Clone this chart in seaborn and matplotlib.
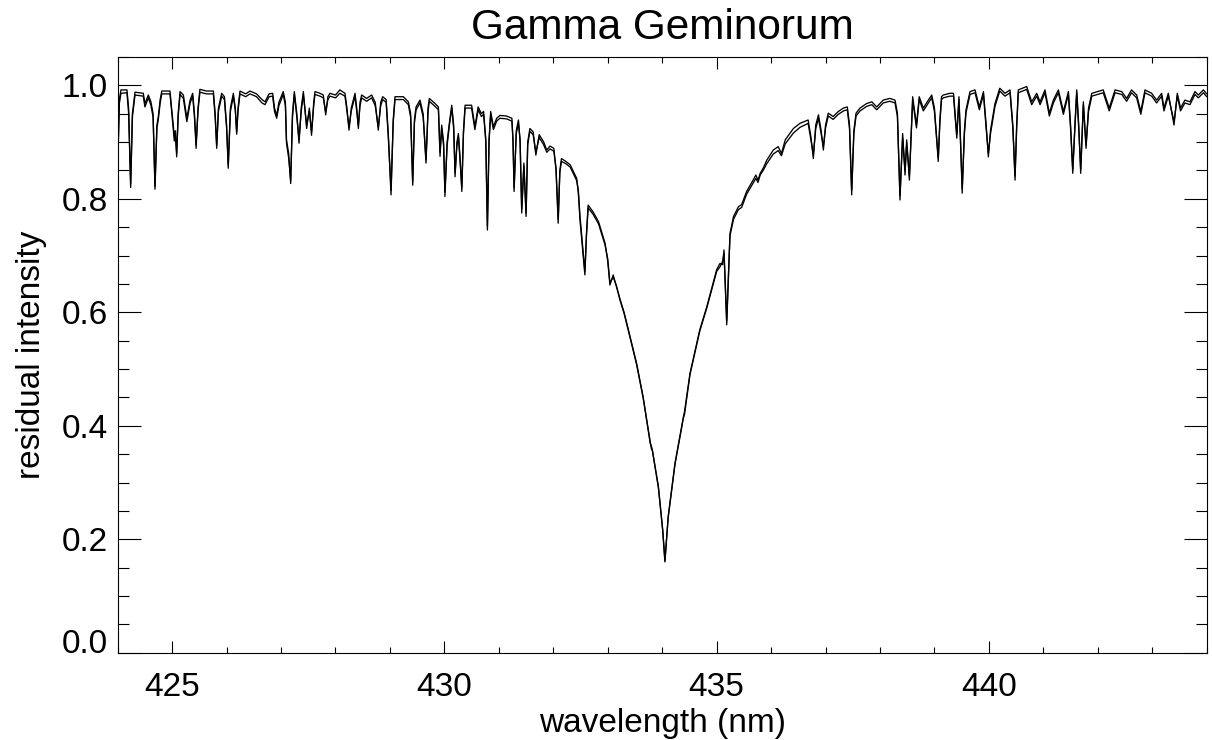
import numpy as np
import pandas as pd
import matplotlib
matplotlib.use("Agg")
import matplotlib.pyplot as plt
import seaborn as sns
from matplotlib.ticker import MultipleLocator, FormatStrFormatter

# ---------------- data ----------------
wl_a = [424.000, 424.030, 424.060, 424.170, 424.200, 424.238, 424.270, 424.318, 424.470, 424.500,
        424.563, 424.610, 424.650, 424.685, 424.720, 424.746, 424.780, 424.810, 424.960, 425.000,
        425.040, 425.060, 425.083, 425.110, 425.145, 425.206, 425.270, 425.330, 425.377, 425.410,
        425.440, 425.475, 425.510, 425.630, 425.757, 425.790, 425.818, 425.850, 425.910, 425.960,
        426.000, 426.030, 426.070, 426.124, 426.160, 426.185, 426.210, 426.246, 426.350, 426.430,
        426.550, 426.650, 426.705, 426.780, 426.846, 426.880, 426.920, 426.960, 427.040, 427.080,
        427.100, 427.140, 427.177, 427.210, 427.244]
obs_a = [0.860, 0.975, 0.992, 0.992, 0.960, 0.820, 0.950, 0.988, 0.986, 0.968,
         0.983, 0.971, 0.950, 0.817, 0.930, 0.945, 0.975, 0.990, 0.990, 0.950,
         0.910, 0.920, 0.874, 0.950, 0.989, 0.983, 0.942, 0.974, 0.986, 0.950,
         0.889, 0.960, 0.993, 0.990, 0.990, 0.950, 0.889, 0.960, 0.986, 0.980,
         0.930, 0.854, 0.960, 0.986, 0.960, 0.914, 0.960, 0.990, 0.985, 0.990,
         0.985, 0.975, 0.971, 0.985, 0.986, 0.960, 0.947, 0.970, 0.989, 0.970,
         0.904, 0.880, 0.827, 0.950, 0.989]
mod_a = [0.850, 0.968, 0.986, 0.987, 0.952, 0.826, 0.944, 0.983, 0.981, 0.962,
         0.978, 0.965, 0.944, 0.822, 0.925, 0.940, 0.969, 0.985, 0.985, 0.945,
         0.902, 0.912, 0.880, 0.944, 0.984, 0.977, 0.936, 0.969, 0.981, 0.944,
         0.895, 0.955, 0.988, 0.985, 0.985, 0.944, 0.894, 0.954, 0.981, 0.975,
         0.925, 0.860, 0.954, 0.981, 0.955, 0.918, 0.955, 0.985, 0.980, 0.985,
         0.980, 0.969, 0.966, 0.980, 0.981, 0.954, 0.942, 0.964, 0.984, 0.964,
         0.898, 0.872, 0.833, 0.944, 0.984]

wl_b = [427.290, 427.330, 427.370, 427.410, 427.470, 427.520, 427.560, 427.600, 427.623, 427.715,
        427.776, 427.820, 427.860, 427.898, 428.000, 428.080, 428.174, 428.210, 428.248, 428.290,
        428.358, 428.390, 428.420, 428.450, 428.480, 428.572, 428.664, 428.730, 428.786, 428.830,
        428.866, 428.930, 428.970, 429.020, 429.060, 429.093, 429.246, 429.338, 429.380, 429.418,
        429.450, 429.480, 429.552, 429.610, 429.662, 429.700, 429.723, 429.828, 429.890, 429.920,
        429.950, 429.985, 430.010, 430.050, 430.090, 430.135, 430.170, 430.196, 430.230, 430.257,
        430.290, 430.320, 430.350, 430.380, 430.500, 430.560, 430.620]
obs_b = [0.950, 0.898, 0.960, 0.989, 0.924, 0.960, 0.912, 0.970, 0.989, 0.986,
         0.983, 0.948, 0.980, 0.986, 0.983, 0.992, 0.986, 0.960, 0.921, 0.960,
         0.986, 0.960, 0.924, 0.970, 0.983, 0.977, 0.983, 0.970, 0.921, 0.970,
         0.980, 0.975, 0.915, 0.807, 0.940, 0.980, 0.980, 0.971, 0.950, 0.824,
         0.940, 0.962, 0.974, 0.950, 0.863, 0.960, 0.977, 0.968, 0.962, 0.875,
         0.930, 0.900, 0.804, 0.900, 0.933, 0.965, 0.930, 0.839, 0.900, 0.915,
         0.870, 0.813, 0.920, 0.965, 0.965, 0.927, 0.962]
mod_b = [0.944, 0.904, 0.954, 0.984, 0.930, 0.955, 0.918, 0.964, 0.984, 0.981,
         0.978, 0.953, 0.975, 0.981, 0.978, 0.986, 0.981, 0.955, 0.926, 0.955,
         0.981, 0.954, 0.929, 0.964, 0.978, 0.972, 0.978, 0.964, 0.926, 0.964,
         0.975, 0.970, 0.908, 0.815, 0.934, 0.975, 0.975, 0.966, 0.944, 0.830,
         0.934, 0.957, 0.969, 0.944, 0.869, 0.954, 0.972, 0.963, 0.957, 0.882,
         0.924, 0.894, 0.812, 0.894, 0.928, 0.960, 0.924, 0.846, 0.894, 0.910,
         0.864, 0.820, 0.914, 0.960, 0.960, 0.922, 0.957]

wl_c = [430.680, 430.720, 430.760, 430.790, 430.820, 430.850, 430.900, 430.960, 431.020, 431.140,
        431.240, 431.260, 431.280, 431.320, 431.360, 431.390, 431.420, 431.460, 431.500, 431.530,
        431.570, 431.630, 431.680, 431.740, 431.820, 431.880, 431.940, 432.010, 432.050, 432.090,
        432.120, 432.150, 432.230, 432.310, 432.430, 432.460, 432.490, 432.580, 432.610, 432.640,
        432.730, 432.830, 432.950, 433.000, 433.040, 433.100, 433.160, 433.220, 433.300, 433.380,
        433.530, 433.650, 433.780, 433.800, 433.820, 433.930, 434.010, 434.050, 434.110, 434.235,
        434.390, 434.410, 434.510, 434.690, 434.820, 435.000, 435.060, 435.110, 435.135, 435.185,
        435.245, 435.310, 435.400, 435.460, 435.550, 435.670, 435.720, 435.760]
obs_c = [0.950, 0.954, 0.900, 0.745, 0.900, 0.954, 0.927, 0.942, 0.947, 0.946,
         0.942, 0.900, 0.813, 0.920, 0.939, 0.900, 0.775, 0.863, 0.769, 0.900,
         0.924, 0.918, 0.877, 0.913, 0.901, 0.886, 0.893, 0.889, 0.850, 0.757,
         0.850, 0.871, 0.866, 0.860, 0.836, 0.810, 0.763, 0.666, 0.740, 0.789,
         0.777, 0.760, 0.722, 0.690, 0.648, 0.666, 0.645, 0.625, 0.600, 0.569,
         0.510, 0.451, 0.369, 0.365, 0.357, 0.293, 0.216, 0.160, 0.240, 0.334,
         0.416, 0.425, 0.492, 0.569, 0.610, 0.675, 0.686, 0.684, 0.710, 0.578,
         0.739, 0.769, 0.786, 0.790, 0.813, 0.833, 0.842, 0.833]
mod_c = [0.945, 0.949, 0.906, 0.752, 0.905, 0.949, 0.922, 0.937, 0.942, 0.941,
         0.937, 0.905, 0.820, 0.915, 0.934, 0.905, 0.782, 0.858, 0.775, 0.895,
         0.919, 0.913, 0.882, 0.908, 0.896, 0.882, 0.888, 0.884, 0.855, 0.764,
         0.846, 0.866, 0.862, 0.856, 0.832, 0.815, 0.770, 0.672, 0.736, 0.784,
         0.773, 0.756, 0.719, 0.694, 0.652, 0.662, 0.647, 0.623, 0.598, 0.567,
         0.508, 0.449, 0.372, 0.360, 0.356, 0.291, 0.215, 0.162, 0.238, 0.332,
         0.414, 0.420, 0.490, 0.567, 0.608, 0.672, 0.680, 0.690, 0.704, 0.585,
         0.735, 0.764, 0.781, 0.785, 0.808, 0.828, 0.836, 0.829]

wl_d = [435.800, 435.860, 435.920, 436.040, 436.130, 436.190, 436.260, 436.410, 436.530, 436.680,
        436.730, 436.776, 436.820, 436.870, 436.920, 436.960, 437.000, 437.050, 437.140, 437.235,
        437.330, 437.400, 437.440, 437.480, 437.520, 437.560, 437.633, 437.755, 437.850, 437.940,
        438.060, 438.180, 438.276, 438.320, 438.367, 438.416, 438.460, 438.490, 438.540, 438.600,
        438.670, 438.720, 438.796, 438.888, 438.950, 439.000, 439.070, 439.100, 439.130, 439.280]
obs_d = [0.845, 0.855, 0.868, 0.886, 0.892, 0.880, 0.904, 0.924, 0.933, 0.939,
         0.910, 0.871, 0.930, 0.948, 0.920, 0.886, 0.930, 0.951, 0.945, 0.954,
         0.960, 0.962, 0.930, 0.807, 0.920, 0.951, 0.960, 0.968, 0.971, 0.962,
         0.974, 0.977, 0.974, 0.951, 0.798, 0.915, 0.842, 0.904, 0.833, 0.980,
         0.930, 0.980, 0.960, 0.974, 0.983, 0.960, 0.866, 0.940, 0.980, 0.986]
mod_d = [0.842, 0.851, 0.862, 0.879, 0.885, 0.876, 0.897, 0.916, 0.926, 0.933,
         0.905, 0.878, 0.924, 0.942, 0.914, 0.892, 0.925, 0.946, 0.940, 0.949,
         0.955, 0.957, 0.924, 0.815, 0.915, 0.946, 0.955, 0.963, 0.966, 0.957,
         0.969, 0.972, 0.969, 0.945, 0.806, 0.908, 0.850, 0.898, 0.840, 0.974,
         0.925, 0.975, 0.955, 0.969, 0.978, 0.954, 0.872, 0.934, 0.975, 0.981]

wl_e = [439.163, 439.350, 439.380, 439.410, 439.450, 439.480, 439.510, 439.550, 439.580, 439.653,
        439.745, 439.825, 439.900, 439.950, 439.990, 440.030, 440.112, 440.200, 440.296, 440.388,
        440.440, 440.480, 440.510, 440.540, 440.694, 440.786, 440.878, 440.940, 441.030, 441.110,
        441.184, 441.276, 441.368, 441.460, 441.500, 441.540, 441.580, 441.613, 441.650, 441.686,
        441.735, 441.784, 441.830, 441.890, 442.100, 442.210, 442.317, 442.440, 442.530, 442.620,
        442.714, 442.790, 442.867, 442.990, 443.080, 443.173, 443.215, 443.295, 443.400, 443.460,
        443.520, 443.600, 443.693, 443.785, 443.846, 443.940, 444.000]
obs_e = [0.983, 0.986, 0.950, 0.907, 0.980, 0.900, 0.810, 0.920, 0.957, 0.989,
         0.992, 0.962, 0.989, 0.930, 0.874, 0.921, 0.968, 0.995, 0.986, 0.992,
         0.930, 0.833, 0.930, 0.992, 0.998, 0.971, 0.986, 0.971, 0.992, 0.951,
         0.974, 0.992, 0.954, 0.989, 0.930, 0.845, 0.930, 0.992, 0.930, 0.845,
         0.971, 0.889, 0.960, 0.986, 0.992, 0.960, 0.992, 0.989, 0.977, 0.992,
         0.983, 0.954, 0.992, 0.986, 0.974, 0.986, 0.960, 0.986, 0.930, 0.986,
         0.960, 0.974, 0.971, 0.989, 0.983, 0.992, 0.985]
mod_e = [0.978, 0.981, 0.944, 0.913, 0.975, 0.894, 0.818, 0.914, 0.952, 0.984,
         0.987, 0.957, 0.984, 0.924, 0.880, 0.915, 0.963, 0.990, 0.981, 0.987,
         0.924, 0.840, 0.924, 0.987, 0.993, 0.966, 0.981, 0.966, 0.987, 0.946,
         0.969, 0.987, 0.949, 0.984, 0.924, 0.852, 0.924, 0.987, 0.924, 0.852,
         0.966, 0.895, 0.954, 0.981, 0.987, 0.955, 0.987, 0.984, 0.972, 0.987,
         0.978, 0.949, 0.987, 0.981, 0.969, 0.981, 0.955, 0.981, 0.936, 0.981,
         0.955, 0.969, 0.966, 0.984, 0.978, 0.987, 0.980]

x_major_ticks = [425, 430, 435, 440]
y_major_ticks = [0.0, 0.2, 0.4, 0.6, 0.8, 1.0]
title_text = "Gamma Geminorum"
x_label = "wavelength (nm)"
y_label = "residual intensity"

# ---------------- assemble ----------------
wavelength = wl_a + wl_b + wl_c + wl_d + wl_e
observed = obs_a + obs_b + obs_c + obs_d + obs_e
model = mod_a + mod_b + mod_c + mod_d + mod_e
assert len(wavelength) == len(observed) == len(model)

df = pd.DataFrame({"wavelength": wavelength, "observed": observed, "model": model})

# ---------------- style ----------------
sns.set_style("white")
plt.rcParams["font.family"] = ["Liberation Sans", "DejaVu Sans"]
plt.rcParams["axes.edgecolor"] = "black"
plt.rcParams["axes.labelcolor"] = "black"
plt.rcParams["text.color"] = "black"
plt.rcParams["xtick.color"] = "black"
plt.rcParams["ytick.color"] = "black"

fig = plt.figure(figsize=(12.12, 7.4), dpi=100)
ax = fig.add_axes([0.09711, 0.11797, 0.89851, 0.80500])

for col in ["observed", "model"]:
    sns.lineplot(data=df, x="wavelength", y=col, ax=ax, color="black",
                 linewidth=0.95, estimator=None, legend=False)

ax.set_xlim(424, 444)
ax.set_ylim(0, 1.05)
ax.set_xticks(x_major_ticks)
ax.set_yticks(y_major_ticks)
ax.xaxis.set_minor_locator(MultipleLocator(1))
ax.yaxis.set_minor_locator(MultipleLocator(0.05))
ax.xaxis.set_major_formatter(FormatStrFormatter("%d"))
ax.yaxis.set_major_formatter(FormatStrFormatter("%.1f"))

ax.tick_params(axis="x", which="major", direction="in", length=8.3, width=0.8,
               top=True, bottom=True, labelsize=24, pad=14, colors="black")
ax.tick_params(axis="x", which="minor", direction="in", length=4.2, width=0.8,
               top=True, bottom=True, colors="black")
ax.tick_params(axis="y", which="major", direction="in", length=16.3, width=0.8,
               left=True, right=True, labelsize=24, pad=7, colors="black")
ax.tick_params(axis="y", which="minor", direction="in", length=8.1, width=0.8,
               left=True, right=True, colors="black")
for s in ax.spines.values():
    s.set_linewidth(0.8)
    s.set_color("black")

ax.set_title(title_text, fontsize=30.5, pad=12.7, color="black")
ax.set_xlabel(x_label, fontsize=24, color="black")
ax.xaxis.set_label_coords(0.5, -0.0928)
ax.set_ylabel(y_label, fontsize=24, color="black")
ax.yaxis.set_label_coords(-0.0796, 0.5)
ax.yaxis.label.set_verticalalignment("center")

fig.canvas.draw()
for t in ax.yaxis.get_major_ticks():
    if abs(t.get_loc()) < 1e-9:
        t.label1.set_verticalalignment("baseline")

fig.savefig("out.png", dpi=100)
